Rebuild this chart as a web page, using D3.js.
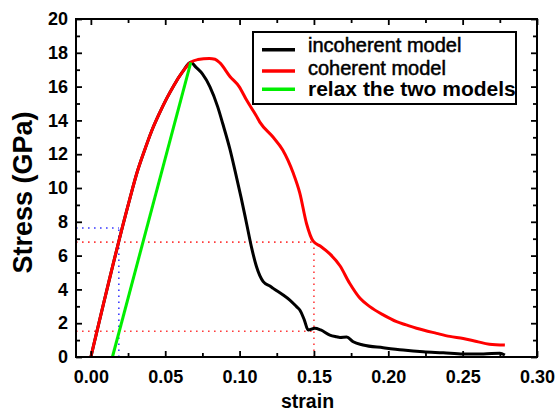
<!DOCTYPE html>
<html lang="en">
<head>
<meta charset="UTF-8">
<title>Stress-strain</title>
<style>
  body { margin: 0; background: #fff; }
  text { font-family: "Liberation Sans", Arial, sans-serif; }
</style>
</head>
<body>
<script src="https://cdn.jsdelivr.net/npm/d3@7/dist/d3.min.js"></script>
<script>
// loading part is shared by both models (strain, stress in GPa)
const rise = [
  [0, 0], [0.026, 9.3], [0.031, 10.9], [0.036, 12.2], [0.041, 13.4],
  [0.046, 14.4], [0.051, 15.3], [0.056, 16.1], [0.0615, 16.85], [0.0672, 17.44]
];
const incoherentTail = [
  [0.0706, 17.15], [0.075, 16.75], [0.080, 16.0], [0.0853, 14.8], [0.0886, 13.83],
  [0.0935, 12.3], [0.097, 11.0], [0.101, 9.45], [0.1047, 7.9], [0.108, 6.5],
  [0.1114, 5.34], [0.1159, 4.46], [0.1204, 4.2], [0.1226, 4.06], [0.1293, 3.67],
  [0.1338, 3.37], [0.1383, 2.98], [0.1405, 2.78], [0.1435, 2.2], [0.1461, 1.6],
  [0.1506, 1.70], [0.1545, 1.6], [0.1607, 1.30], [0.1652, 1.2], [0.1675, 1.16],
  [0.172, 1.18], [0.1764, 0.9], [0.183, 0.71], [0.1966, 0.55], [0.21, 0.41],
  [0.2235, 0.31], [0.237, 0.25], [0.2504, 0.18], [0.264, 0.18], [0.275, 0.22],
  [0.2784, 0.12]
];
const coherentTail = [
  [0.072, 17.6], [0.0796, 17.67], [0.0835, 17.62], [0.0868, 17.4], [0.0935, 16.6],
  [0.0997, 16.0], [0.1047, 15.2], [0.111, 14.3], [0.1136, 13.9], [0.1226, 13.0],
  [0.129, 12.25], [0.136, 10.9], [0.1405, 9.7], [0.145, 7.9], [0.1495, 6.85],
  [0.1545, 6.55], [0.1607, 6.1], [0.1675, 5.4], [0.174, 4.36], [0.181, 3.47],
  [0.1876, 2.98], [0.1966, 2.49], [0.2056, 2.09], [0.212, 1.9], [0.219, 1.70],
  [0.2325, 1.40], [0.2414, 1.22], [0.2504, 1.1], [0.2594, 0.92], [0.268, 0.76],
  [0.2784, 0.71]
];
const relax = [[0.0145, 0], [0.0672, 17.44]];

// dotted guide lines: [x0, y0, x1, y1]
const redGuides = [
  [-0.01, 6.8, 0.15, 6.8],
  [-0.01, 1.52, 0.15, 1.52],
  [0.15, 0, 0.15, 6.8]
];
const blueGuides = [
  [-0.01, 7.63, 0.0188, 7.63],
  [0.0188, 0, 0.0188, 7.63]
];

const legendLabels = ['incoherent model', 'coherent model', 'relax the two models'];
const xTicks = [0, 0.05, 0.10, 0.15, 0.20, 0.25, 0.30];
const yTicks = [0, 2, 4, 6, 8, 10, 12, 14, 16, 18, 20];

const w = 556, h = 412;
const pLeft = 76, pRight = 537, pTop = 19, pBottom = 357;

const svg = d3.select('body').append('svg')
  .attr('width', w).attr('height', h);

const x = d3.scaleLinear().domain([-0.01, 0.30]).range([pLeft, pRight]);
const y = d3.scaleLinear().domain([0, 20]).range([pBottom, pTop]);

const xMinor = [0.025, 0.075, 0.125, 0.175, 0.225, 0.275];
const yMinor = [1, 3, 5, 7, 9, 11, 13, 15, 17, 19];

// guides
const guide = (data, color) => svg.append('g').selectAll('line')
  .data(data).enter().append('line')
  .attr('x1', d => x(d[0])).attr('y1', d => y(d[1]))
  .attr('x2', d => x(d[2])).attr('y2', d => y(d[3]))
  .attr('stroke', color).attr('stroke-width', 1.6)
  .attr('stroke-dasharray', '1.6,4.4');
guide(redGuides, '#ff3c3c');
guide(blueGuides, '#3a3aff');

const line = d3.line().x(d => x(d[0])).y(d => y(d[1])).curve(d3.curveMonotoneX);

svg.append('path').datum(rise.concat(incoherentTail))
  .attr('d', line).attr('fill', 'none').attr('stroke', '#000').attr('stroke-width', 3)
  .attr('stroke-linejoin', 'round');
svg.append('path').datum(rise.concat(coherentTail))
  .attr('d', line).attr('fill', 'none').attr('stroke', '#ff0000').attr('stroke-width', 3)
  .attr('stroke-linejoin', 'round');
svg.append('path').datum(relax)
  .attr('d', line).attr('fill', 'none').attr('stroke', '#00ee00').attr('stroke-width', 3);

// axes with inward ticks on all four sides
const fmtX = d3.format('.2f');
function addAxis(axis, tx, ty, labels) {
  const g = svg.append('g').attr('transform', `translate(${tx},${ty})`).call(axis);
  g.select('.domain').remove();
  g.selectAll('.tick line').attr('stroke', '#000').attr('stroke-width', 1.8);
  g.selectAll('text').attr('font-size', 18).attr('font-weight', 'bold')
    .attr('fill', '#000').style('font-family', '"Liberation Sans", Arial, sans-serif');
  if (!labels) g.selectAll('text').remove();
  return g;
}
addAxis(d3.axisBottom(x).tickValues(xTicks).tickFormat(fmtX).tickSize(-6).tickPadding(13), 0, pBottom, true);
addAxis(d3.axisBottom(x).tickValues(xMinor).tickFormat('').tickSize(-4), 0, pBottom, false);
addAxis(d3.axisTop(x).tickValues(xTicks).tickSize(-6), 0, pTop, false);
addAxis(d3.axisTop(x).tickValues(xMinor).tickSize(-4), 0, pTop, false);
addAxis(d3.axisLeft(y).tickValues(yTicks).tickSize(-6).tickPadding(8), pLeft, 0, true);
addAxis(d3.axisLeft(y).tickValues(yMinor).tickSize(-4), pLeft, 0, false);
addAxis(d3.axisRight(y).tickValues(yTicks).tickSize(-6), pRight, 0, false);
addAxis(d3.axisRight(y).tickValues(yMinor).tickSize(-4), pRight, 0, false);

// frame
svg.append('rect')
  .attr('x', pLeft).attr('y', pTop)
  .attr('width', pRight - pLeft).attr('height', pBottom - pTop)
  .attr('fill', 'none').attr('stroke', '#000').attr('stroke-width', 2);

// axis titles
svg.append('text')
  .attr('x', 307.5).attr('y', 407.5)
  .attr('text-anchor', 'middle').attr('font-size', 19.5).attr('font-weight', 'bold')
  .text('strain');
svg.append('text')
  .attr('transform', 'translate(32,192.5) rotate(-90)')
  .attr('text-anchor', 'middle').attr('font-size', 27).attr('font-weight', 'bold')
  .text('Stress (GPa)');

// legend
const legend = svg.append('g');
legend.append('rect')
  .attr('x', 253).attr('y', 32).attr('width', 263).attr('height', 72)
  .attr('fill', '#fff').attr('stroke', '#000').attr('stroke-width', 2);
const legendColors = ['#000', '#ff0000', '#00ee00'];
const lineY = [49.7, 71, 89.3];
const textY = [51.5, 74.5, 95.5];
legendLabels.forEach((label, i) => {
  legend.append('line')
    .attr('x1', 262).attr('x2', 295).attr('y1', lineY[i]).attr('y2', lineY[i])
    .attr('stroke', legendColors[i]).attr('stroke-width', 3.5);
  legend.append('text')
    .attr('x', 308).attr('y', textY[i])
    .attr('font-size', i === 2 ? 21 : 20)
    .attr('font-weight', i === 2 ? 'bold' : 'normal')
    .attr('stroke', i === 2 ? 'none' : '#000').attr('stroke-width', 0.5)
    .text(label);
});
</script>
</body>
</html>
